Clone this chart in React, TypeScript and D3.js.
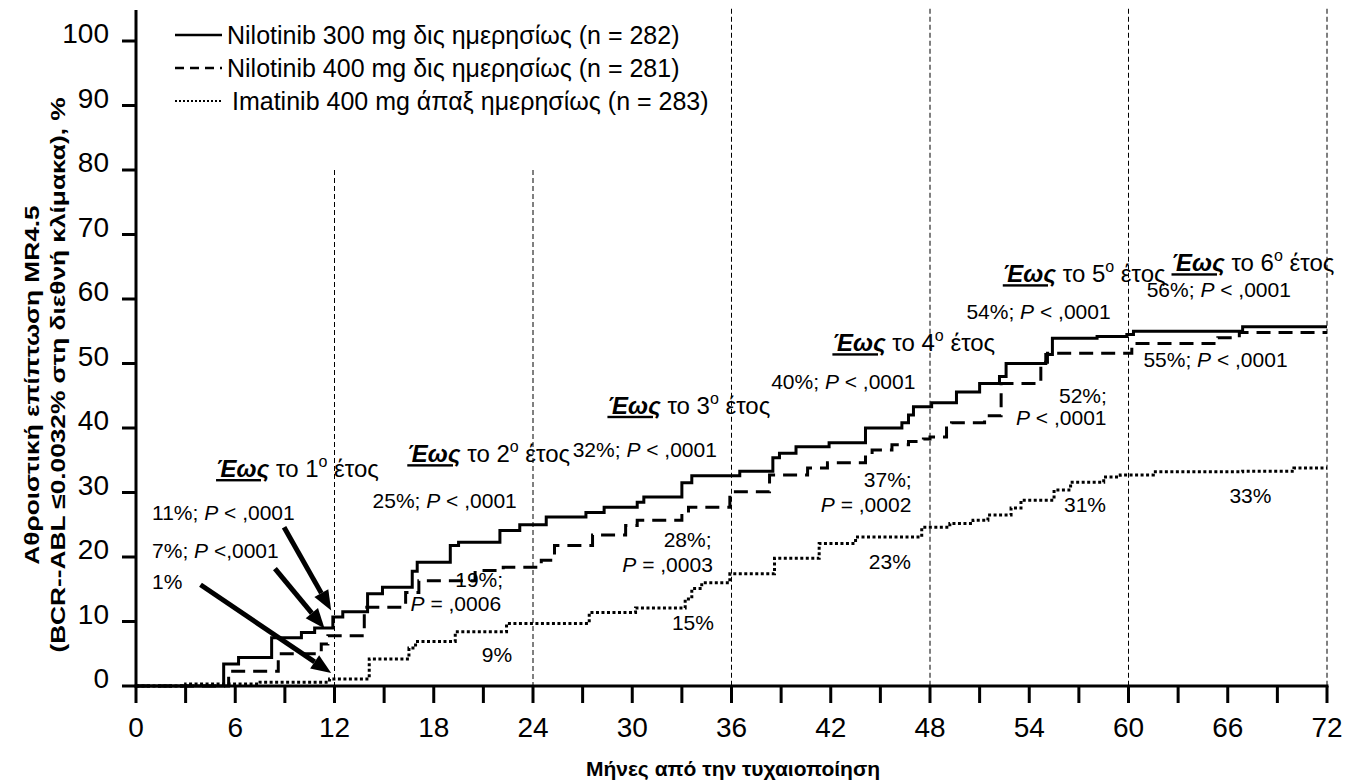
import React from "react";
import * as d3 from "d3";

// step curves: [month, cumulative %]
const nilo300 = [
  [0, 0], [5.3, 3.4], [6.2, 4.4], [8.2, 7.5], [10.0, 8.3], [10.8, 9.0], [11.9, 10.7],
  [12.5, 11.5], [14.0, 14.3], [14.9, 15.3], [16.7, 17.8], [17.0, 19.2], [19.0, 21.8],
  [19.5, 22.3], [22.0, 24.1], [23.2, 25.0], [24.8, 26.2], [27.2, 26.9], [28.3, 27.7],
  [30.3, 28.5], [30.7, 29.3], [33.0, 31.5], [33.6, 32.6], [36.5, 33.3], [38.5, 35.4],
  [38.9, 36.1], [39.9, 37.1], [41.9, 37.7], [44.1, 40.0], [46.3, 40.8], [46.7, 42.0],
  [47.0, 43.3], [48.1, 43.9], [49.6, 45.6], [51.0, 46.9], [52.2, 48.0], [52.6, 50.0],
  [55.0, 51.4], [55.4, 53.9], [58.1, 54.2], [59.9, 54.5], [60.3, 55.0], [66.9, 55.7], [72, 55.7],
];

const nilo400 = [
  [0, 0], [5.6, 2.3], [8.6, 5.0], [11.2, 6.5], [11.6, 7.8], [13.8, 12.2], [16.3, 14.5],
  [17.1, 16.3], [20.5, 17.9], [22.2, 18.4], [24.5, 19.5], [25.3, 21.8], [27.6, 23.4],
  [29.6, 24.9], [30.3, 25.7], [33.0, 26.8], [33.4, 27.7], [35.9, 30.1], [38.3, 32.7],
  [40.6, 33.8], [41.8, 34.6], [44.1, 35.5], [44.5, 36.6], [45.7, 37.4], [46.7, 37.9],
  [47.6, 38.3], [48.0, 38.6], [49.0, 40.0], [49.3, 40.8], [51.3, 41.9], [52.3, 46.9],
  [54.7, 50.2], [55.1, 51.6], [60.2, 52.8], [60.4, 53.1], [65.4, 54.0], [66.7, 54.8], [72, 54.8],
];

const imat400 = [
  [0, 0], [3.0, 0.3], [7.5, 0.6], [11.7, 1.1], [14.1, 4.2], [16.5, 5.9], [16.9, 6.9],
  [19.3, 8.4], [22.4, 9.7], [27.4, 11.4], [30.2, 12.1], [33.2, 13.5], [33.6, 15.1],
  [34.2, 16.0], [35.9, 17.4], [38.6, 19.8], [41.3, 22.1], [43.5, 23.1], [47.5, 24.6],
  [49.2, 25.2], [50.6, 25.7], [51.5, 26.5], [52.9, 27.6], [53.5, 28.8], [55.5, 30.4],
  [56.5, 31.6], [58.5, 32.4], [59.5, 32.7], [61.5, 33.2], [66.9, 33.3], [70.0, 33.8], [72, 33.8],
];

const legendLabels = [
  "Nilotinib 300 mg δις ημερησίως (n = 282)",
  "Nilotinib 400 mg δις ημερησίως (n = 281)",
  "Imatinib 400 mg άπαξ ημερησίως (n = 283)",
];

const xTicks = d3.range(0, 73, 3);
const xLabels = d3.range(0, 73, 6);
const yTicks = d3.range(0, 101, 10);

// vertical reference lines: month, top (%)
const yearLines = [[12, 80], [24, 80], [36, 105], [48, 105], [60, 105], [72, 105]];

// "Έως το Nο έτος" headings: year, month, %
const yearHeads = [
  [1, 4.84, 32.4], [2, 16.4, 34.7], [3, 28.5, 42.2],
  [4, 42.1, 51.9], [5, 52.4, 62.6], [6, 62.6, 64.3],
];

// stat annotations: text, month, %
const statLabels: [string, number, number][] = [
  ["11%; P < ,0001", 0.97, 25.7],
  ["7%; P <,0001", 0.97, 19.9],
  ["1%", 0.97, 15.0],
  ["25%; P < ,0001", 14.3, 27.6],
  ["19%;", 19.3, 15.3],
  ["P = ,0006", 16.6, 11.7],
  ["9%", 20.9, 3.7],
  ["32%; P < ,0001", 26.4, 35.5],
  ["28%;", 31.9, 21.5],
  ["P = ,0003", 29.4, 17.6],
  ["15%", 32.4, 8.7],
  ["40%; P < ,0001", 38.4, 46.1],
  ["37%;", 44.0, 30.8],
  ["P = ,0002", 41.4, 26.9],
  ["23%", 44.3, 18.2],
  ["54%; P < ,0001", 50.2, 56.9],
  ["52%;", 55.8, 43.9],
  ["P < ,0001", 53.2, 40.5],
  ["31%", 56.1, 26.9],
  ["56%; P < ,0001", 61.1, 60.3],
  ["55%; P < ,0001", 60.9, 49.5],
  ["33%", 66.1, 28.3],
];

// arrows: from [month, %] to [month, %]
const arrows = [
  [[8.95, 24.6], [11.8, 11.7]],
  [[8.4, 18.2], [11.4, 8.9]],
  [[3.9, 15.7], [11.8, 2.0]],
];

const FONT = "Arial, 'Liberation Sans', sans-serif";

const x = d3.scaleLinear().domain([0, 72]).range([136, 1327]);
const y = d3.scaleLinear().domain([0, 100]).range([686, 41]);

const stepLine = d3
  .line<number[]>()
  .x((d) => x(d[0]))
  .y((d) => y(d[1]))
  .curve(d3.curveStepAfter);

const series = [
  { data: nilo300, dash: "none" },
  { data: nilo400, dash: "14,8" },
  { data: imat400, dash: "3,2.5" },
];

function StatText({ text, xx, yy }) {
  const parts = text.split("P");
  return (
    <text x={xx} y={yy} fontSize={21} fontFamily={FONT} fill="#000">
      {parts.map((p, i) => (
        <React.Fragment key={i}>
          {i > 0 && <tspan fontStyle="italic">P</tspan>}
          <tspan>{p.replace(/ /g, "\u00a0")}</tspan>
        </React.Fragment>
      ))}
    </text>
  );
}

function Arrow({ from, to }) {
  const x1 = x(from[0]), y1 = y(from[1]);
  const x2 = x(to[0]), y2 = y(to[1]);
  const ang = Math.atan2(y2 - y1, x2 - x1);
  const len = 20, half = 8;
  const bx = x2 - len * Math.cos(ang), by = y2 - len * Math.sin(ang);
  const px = -Math.sin(ang) * half, py = Math.cos(ang) * half;
  return (
    <g>
      <line x1={x1} y1={y1} x2={bx} y2={by} stroke="#000" strokeWidth={5} />
      <polygon points={`${x2},${y2} ${bx + px},${by + py} ${bx - px},${by - py}`} fill="#000" />
    </g>
  );
}

export default function App() {
  return (
    <svg width={1361} height={782} style={{ position: "absolute", left: 0, top: 0, background: "#fff" }}>
      <rect width={1361} height={782} fill="#fff" />

      {/* year reference lines */}
      {yearLines.map(([m, top]) => (
        <line key={m} x1={x(m)} x2={x(m)} y1={y(top)} y2={y(0)} stroke="#000" strokeWidth={1} strokeDasharray="5,3" />
      ))}

      {/* curves */}
      {series.map((s, i) => (
        <path key={i} d={stepLine(s.data) || ""} fill="none" stroke="#000" strokeWidth={3} strokeDasharray={s.dash} />
      ))}

      {/* axes */}
      <line x1={x(0)} x2={x(0)} y1={10} y2={y(0) + 1.5} stroke="#000" strokeWidth={3} />
      <line x1={x(0) - 1.5} x2={x(72) + 1.5} y1={y(0)} y2={y(0)} stroke="#000" strokeWidth={3} />
      {yTicks.map((t) => (
        <g key={t}>
          <line x1={x(0) - 14} x2={x(0)} y1={y(t)} y2={y(t)} stroke="#000" strokeWidth={3} />
          <text x={109} y={y(t) + 2} textAnchor="end" fontSize={28} fontFamily={FONT}>{t}</text>
        </g>
      ))}
      {xTicks.map((t) => (
        <line key={t} x1={x(t)} x2={x(t)} y1={y(0)} y2={y(0) + 17} stroke="#000" strokeWidth={3} />
      ))}
      {xLabels.map((t) => (
        <text key={t} x={x(t)} y={737} textAnchor="middle" fontSize={28} fontFamily={FONT}>{t}</text>
      ))}

      {/* axis titles */}
      <text x={733} y={776} textAnchor="middle" fontSize={21} fontWeight="bold" fontFamily={FONT}>
        Μήνες από την τυχαιοποίηση
      </text>
      <g transform="translate(0,385) rotate(-90) scale(1.25,1)">
        <text x={0} y={39} textAnchor="middle" fontSize={21} fontWeight="bold" fontFamily={FONT}>
          Αθροιστική επίπτωση MR4.5
        </text>
      </g>
      <g transform="translate(0,375) rotate(-90) scale(1.25,1)">
        <text x={0} y={65} textAnchor="middle" fontSize={21} fontWeight="bold" fontFamily={FONT}>
          (BCR--ABL ≤0.0032% στη διεθνή κλίμακα), %
        </text>
      </g>

      {/* legend */}
      {legendLabels.map((lab, i) => (
        <g key={lab} transform={`translate(0,${35 + i * 33})`}>
          <line x1={175} x2={222} y1={0} y2={0} stroke="#000" strokeWidth={i === 2 ? 2 : 2.5}
            strokeDasharray={i === 0 ? "none" : i === 1 ? "9,6" : "2,2"} />
          <text x={i === 2 ? 232 : 227} y={9} fontSize={25} fontFamily={FONT}>{lab}</text>
        </g>
      ))}

      {/* year headings */}
      {yearHeads.map(([yr, m, p]) => (
        <text key={yr} x={x(m)} y={y(p)} fontSize={24} fontFamily={FONT}>
          <tspan fontWeight="bold" fontStyle="italic" textDecoration="underline">Έως</tspan>
          <tspan>{"\u00a0το " + yr}</tspan>
          <tspan fontSize={16} dy={-10}>ο</tspan>
          <tspan dy={10}>{"\u00a0έτος"}</tspan>
        </text>
      ))}

      {/* stats */}
      {statLabels.map(([t, m, p], i) => (
        <StatText key={i} text={t} xx={x(m)} yy={y(p)} />
      ))}

      {/* arrows */}
      {arrows.map((a, i) => (
        <Arrow key={i} from={a[0]} to={a[1]} />
      ))}
    </svg>
  );
}
